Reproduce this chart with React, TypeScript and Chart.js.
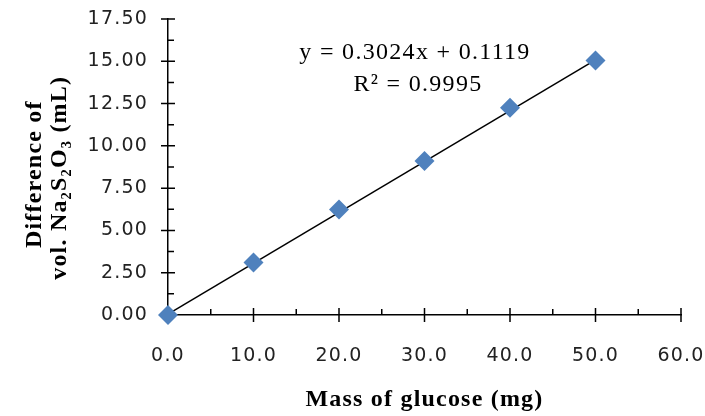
import React, { useEffect, useRef } from 'react';
import { Chart, registerables } from 'chart.js';

Chart.register(...registerables);

// ---- data ----
const massMg = [0, 10, 20, 30, 40, 50];
const volDiff = [0, 3.11, 6.24, 9.1, 12.26, 15.04];
const trendX = [0, 50];
const trendY = [0.05, 15.08];
const equationLines = ['y = 0.3024x + 0.1119', 'R² = 0.9995'];
const xTitle = 'Mass of glucose (mg)';
const yTitle = ['Difference of  ', 'vol. Na₂S₂O₃ (mL)   '];
const xMin = 0;
const xMax = 60;
const xStep = 10;
const yMin = 0;
const yMax = 17.5;
const yStep = 2.5;

const W = 705;
const H = 416;

const spacingPlugin = {
  id: 'spacing',
  beforeUpdate(chart: any) {
    chart.ctx.letterSpacing = '1.2px';
  },
  beforeLayout(chart: any) {
    chart.ctx.letterSpacing = '1.2px';
  },
  beforeDraw(chart: any) {
    chart.ctx.letterSpacing = '1.2px';
  },
};

const tickMarkPlugin = {
  id: 'tickMarks',
  beforeDatasetsDraw(chart: any) {
    const ctx = chart.ctx;
    const xs = chart.scales.x;
    const ys = chart.scales.y;
    const major = 7;
    const minor = 6;
    ctx.save();
    ctx.strokeStyle = '#000';
    ctx.lineWidth = 1.5;
    ctx.beginPath();
    const yv = ys.ticks.map((t: any) => t.value);
    const ax = ys.right;
    yv.forEach((v: number, i: number) => {
      const py = ys.getPixelForValue(v);
      ctx.moveTo(ax - major, py);
      ctx.lineTo(ax + major, py);
      if (i < yv.length - 1) {
        const pm = ys.getPixelForValue((v + yv[i + 1]) / 2);
        ctx.moveTo(ax, pm);
        ctx.lineTo(ax + minor, pm);
      }
    });
    const xv = xs.ticks.map((t: any) => t.value);
    const ay = xs.top;
    xv.forEach((v: number, i: number) => {
      const px = xs.getPixelForValue(v);
      ctx.moveTo(px, ay - major);
      ctx.lineTo(px, ay + major);
      if (i < xv.length - 1) {
        const pm = xs.getPixelForValue((v + xv[i + 1]) / 2);
        ctx.moveTo(pm, ay);
        ctx.lineTo(pm, ay - minor);
      }
    });
    ctx.stroke();
    ctx.restore();
  },
};

const equationPlugin = {
  id: 'equation',
  afterDraw(chart: any) {
    const ctx = chart.ctx;
    ctx.save();
    ctx.letterSpacing = '1.3px';
    ctx.font = '24px "Liberation Serif"';
    ctx.fillStyle = '#000';
    ctx.textAlign = 'center';
    ctx.textBaseline = 'alphabetic';
    ctx.fillText(equationLines[0], 415, 59);
    ctx.fillText(equationLines[1], 418, 91);
    ctx.restore();
  },
};

export default function App() {
  const canvasRef = useRef<HTMLCanvasElement | null>(null);

  useEffect(() => {
    const canvas = canvasRef.current;
    if (!canvas) return;
    const chart = new Chart(canvas, {
      type: 'scatter',
      data: {
        datasets: [
          {
            label: 'Data',
            data: massMg.map((m, i) => ({ x: m, y: volDiff[i] })),
            pointStyle: 'rectRot',
            pointRadius: 10,
            pointHoverRadius: 10,
            backgroundColor: '#4F81BD',
            borderColor: '#4F81BD',
            borderWidth: 0,
            clip: false,
          },
          {
            label: 'Linear',
            data: trendX.map((m, i) => ({ x: m, y: trendY[i] })),
            showLine: true,
            borderColor: '#000',
            borderWidth: 1.5,
            pointRadius: 0,
            clip: false,
          },
        ],
      },
      options: {
        animation: false,
        responsive: false,
        devicePixelRatio: 1,
        layout: { padding: { top: 19, right: 24, left: 0, bottom: 0 } },
        plugins: {
          legend: { display: false },
          tooltip: { enabled: false },
        },
        scales: {
          x: {
            type: 'linear',
            min: xMin,
            max: xMax,
            grid: { display: false, drawTicks: false },
            border: { display: true, color: '#000', width: 1.5 },
            ticks: {
              stepSize: xStep,
              autoSkip: false,
              maxRotation: 0,
              padding: 30,
              color: '#222',
              font: { family: '"DejaVu Sans"', size: 19 },
              callback: (v: any) => Number(v).toFixed(1),
            },
            title: {
              display: true,
              text: xTitle,
              color: '#000',
              font: { family: '"Liberation Serif"', size: 24, weight: 'bold', lineHeight: 1.05 },
              padding: { top: 0, bottom: 4 },
            },
            afterFit: (scale: any) => {
              scale.height = 101;
              scale.paddingLeft = 0;
              scale.paddingRight = 0;
            },
          },
          y: {
            type: 'linear',
            min: yMin,
            max: yMax,
            grid: { display: false, drawTicks: false },
            border: { display: true, color: '#000', width: 1.5 },
            ticks: {
              stepSize: yStep,
              padding: 20,
              color: '#222',
              font: { family: '"DejaVu Sans"', size: 19 },
              callback: (v: any) => Number(v).toFixed(2),
            },
            title: {
              display: true,
              text: yTitle,
              color: '#000',
              font: { family: '"Liberation Serif"', size: 24, weight: 'bold', lineHeight: 1.05 },
              padding: { top: 22, bottom: 0 },
            },
            afterFit: (scale: any) => {
              scale.width = 168;
              scale.paddingTop = 0;
              scale.paddingBottom = 0;
            },
          },
        },
      },
      plugins: [spacingPlugin, tickMarkPlugin, equationPlugin],
    } as any);
    return () => chart.destroy();
  }, []);

  return (
    <div style={{ position: 'absolute', left: 0, top: 0, width: W, height: H, background: '#fff' }}>
      <canvas ref={canvasRef} width={W} height={H} style={{ display: 'block', width: W, height: H }} />
    </div>
  );
}
